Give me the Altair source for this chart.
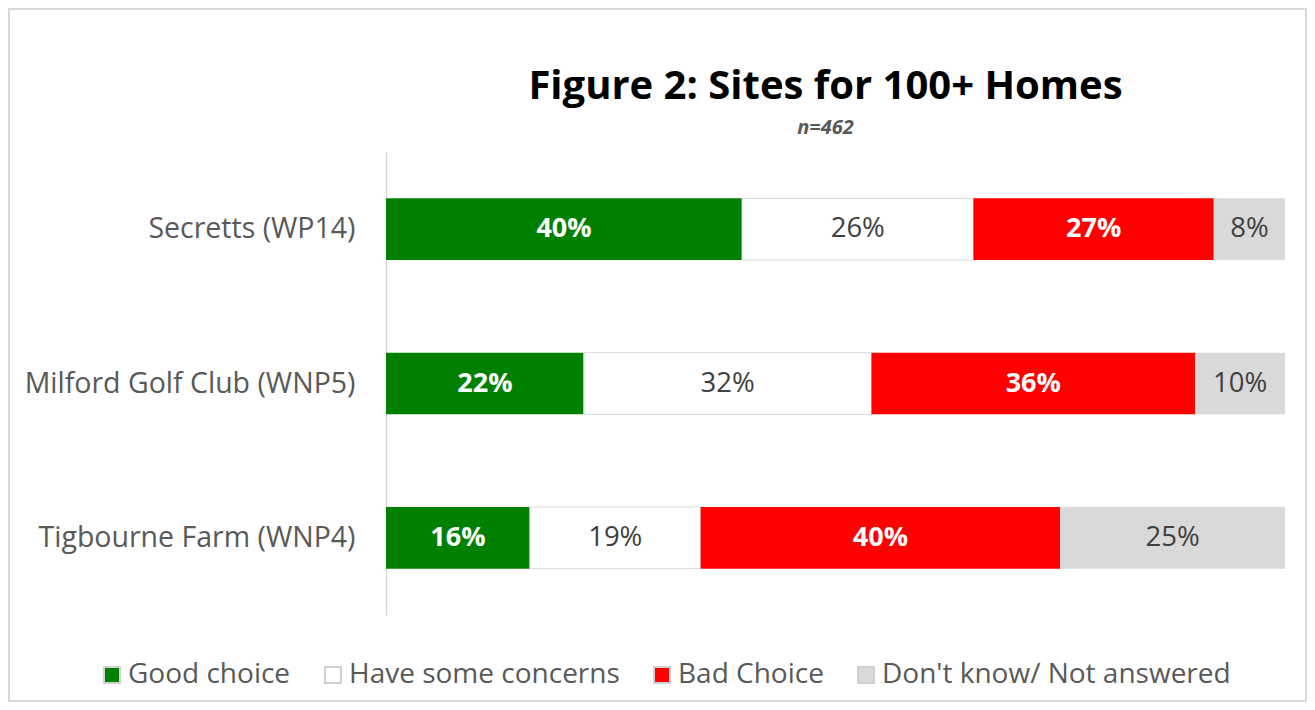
import altair as alt
import pandas as pd

sites = ["Secretts (WP14)", "Milford Golf Club (WNP5)", "Tigbourne Farm (WNP4)"]
categories = ["Good choice", "Have some concerns", "Bad Choice", "Don't know/ Not answered"]
colors = ["#008000", "#ffffff", "#ff0000", "#d9d9d9"]
values = {
    "Secretts (WP14)": [40, 26, 27, 8],
    "Milford Golf Club (WNP5)": [22, 32, 36, 10],
    "Tigbourne Farm (WNP4)": [16, 19, 40, 25],
}

rows = []
for s in sites:
    for i, c in enumerate(categories):
        rows.append({"site": s, "cat": c, "order": i, "value": values[s][i],
                     "label": f"{values[s][i]}%"})
df = pd.DataFrame(rows)

FONT = "Open Sans"

base = alt.Chart(df).transform_joinaggregate(
    total="sum(value)", groupby=["site"]
).transform_calculate(
    pct="datum.value / datum.total"
).transform_stack(
    stack="pct", groupby=["site"], as_=["x0", "x1"], sort=[alt.SortField("order")]
).transform_calculate(
    mid="(datum.x0 + datum.x1) / 2"
)

yenc = alt.Y("site:N", sort=sites, title=None,
             scale=alt.Scale(paddingInner=0.6, paddingOuter=0.3),
             axis=alt.Axis(labelFontSize=28.5, labelColor="#595959", labelFont=FONT,
                           labelPadding=31, ticks=False, domainColor="#d9d9d9",
                           domainWidth=1.5, labelLimit=400))

xscale = alt.Scale(domain=[0, 1])

bars = base.mark_bar(strokeWidth=1).encode(
    x=alt.X("x0:Q", scale=xscale, axis=None),
    x2="x1:Q",
    y=yenc,
    color=alt.Color("cat:N", sort=categories,
                    scale=alt.Scale(domain=categories, range=colors),
                    legend=alt.Legend(title=None, orient="none", direction="horizontal",
                                      legendX=-288, legendY=509, columns=4,
                                      symbolType="square", symbolSize=256,
                                      symbolStrokeColor="#d0d0d0", symbolStrokeWidth=2,
                                      labelFontSize=28, labelColor="#595959", labelFont=FONT,
                                      columnPadding=28, labelOffset=2, labelLimit=500)),
    stroke=alt.condition(alt.datum.cat == "Have some concerns",
                         alt.value("#d9d9d9"), alt.value("transparent")),
)

text_bold = base.transform_filter(
    (alt.datum.cat == "Good choice") | (alt.datum.cat == "Bad Choice")
).mark_text(font=FONT, fontSize=27, fontWeight="bold", color="white").encode(
    x=alt.X("mid:Q", scale=xscale),
    y=alt.Y("site:N", sort=sites),
    text="label:N",
)

text_reg = base.transform_filter(
    (alt.datum.cat == "Have some concerns") | (alt.datum.cat == "Don't know/ Not answered")
).mark_text(font=FONT, fontSize=27.5, color="#404040").encode(
    x=alt.X("mid:Q", scale=xscale),
    y=alt.Y("site:N", sort=sites),
    text="label:N",
)

frame = alt.Chart(alt.Data(values=[{}])).mark_rect(
    fill="transparent", stroke="#d9d9d9", strokeWidth=2
).encode(
    x=alt.value(-377), x2=alt.value(920), y=alt.value(-143), y2=alt.value(549)
)

chart = alt.layer(frame, bars, text_bold, text_reg).properties(
    width=899, height=463,
    padding={"left": 378, "top": 144, "right": 22, "bottom": 87},
    autosize=alt.AutoSizeParams(type="none"),
    title=alt.TitleParams(
        text="Figure 2: Sites for 100+ Homes",
        subtitle="n=462",
        anchor="middle", dx=-10,
        font=FONT, fontSize=40, fontWeight="bold", color="#000000",
        subtitleFont=FONT, subtitleFontSize=20, subtitleFontWeight="bold",
        subtitleFontStyle="italic", subtitleColor="#595959", subtitlePadding=11,
        offset=-130,
    ),
).configure_view(stroke=None)

chart.save("out.html", embed_options={"renderer": "svg", "actions": False})
